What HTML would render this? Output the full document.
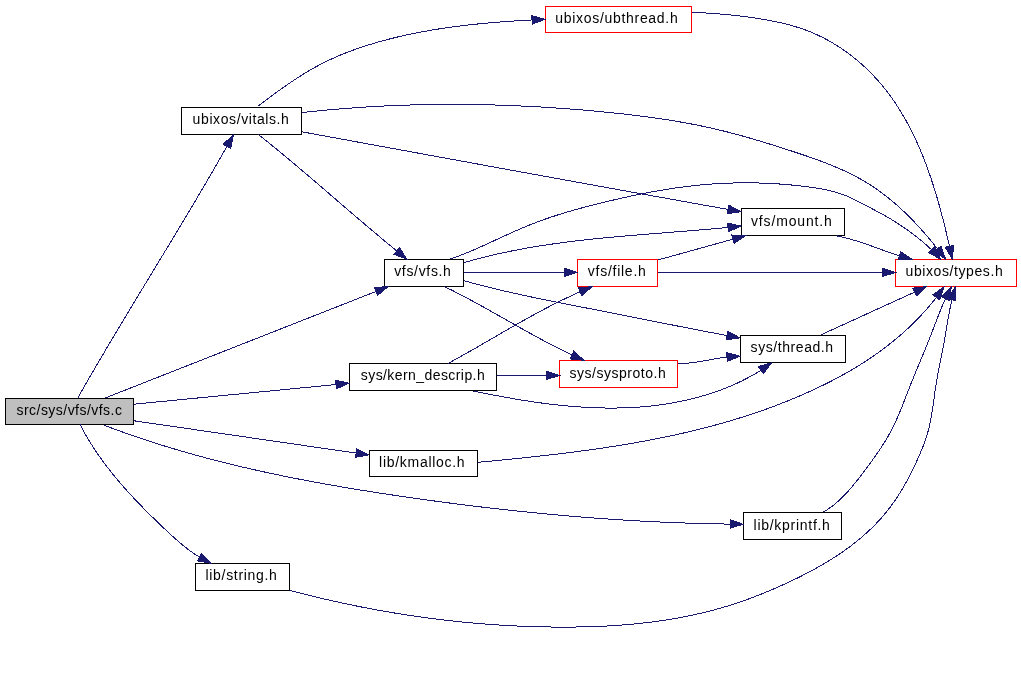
<!DOCTYPE html><html><head><meta charset="utf-8"><style>html,body{margin:0;padding:0;background:#fff;width:1021px;height:679px;overflow:hidden}svg{display:block;will-change:transform}text{font-family:"Liberation Sans",sans-serif;font-size:14px;fill:#000}</style></head><body>
<svg width="1021" height="679" viewBox="0 0 1021 679">
<rect width="1021" height="679" fill="#fff"/>
<rect x="5.5" y="398.5" width="128.0" height="26.0" fill="#bfbfbf" stroke="#000" stroke-width="1"/>
<text x="16.5" y="415.0" textLength="105.4" lengthAdjust="spacing">src/sys/vfs/vfs.c</text>
<rect x="181.5" y="107.5" width="120.0" height="27.0" fill="#fff" stroke="#000" stroke-width="1"/>
<text x="192.6" y="124.0" textLength="96.3" lengthAdjust="spacing">ubixos/vitals.h</text>
<rect x="545.5" y="6.5" width="146.0" height="26.0" fill="#fff" stroke="#ff0000" stroke-width="1"/>
<text x="555.3" y="23.0" textLength="122.4" lengthAdjust="spacing">ubixos/ubthread.h</text>
<rect x="384.5" y="259.5" width="79.0" height="27.0" fill="#fff" stroke="#000" stroke-width="1"/>
<text x="394.2" y="276.0" textLength="56.7" lengthAdjust="spacing">vfs/vfs.h</text>
<rect x="741.5" y="208.5" width="103.0" height="27.0" fill="#fff" stroke="#000" stroke-width="1"/>
<text x="751.0" y="226.0" textLength="80.8" lengthAdjust="spacing">vfs/mount.h</text>
<rect x="577.5" y="259.5" width="80.0" height="27.0" fill="#fff" stroke="#ff0000" stroke-width="1"/>
<text x="587.8" y="276.0" textLength="58.0" lengthAdjust="spacing">vfs/file.h</text>
<rect x="895.5" y="259.5" width="121.0" height="27.0" fill="#fff" stroke="#ff0000" stroke-width="1"/>
<text x="905.5" y="276.0" textLength="97.2" lengthAdjust="spacing">ubixos/types.h</text>
<rect x="349.5" y="363.5" width="147.0" height="27.0" fill="#fff" stroke="#000" stroke-width="1"/>
<text x="360.8" y="380.0" textLength="123.9" lengthAdjust="spacing">sys/kern_descrip.h</text>
<rect x="559.5" y="360.5" width="118.0" height="27.0" fill="#fff" stroke="#ff0000" stroke-width="1"/>
<text x="569.4" y="378.0" textLength="96.4" lengthAdjust="spacing">sys/sysproto.h</text>
<rect x="740.5" y="335.5" width="105.0" height="27.0" fill="#fff" stroke="#000" stroke-width="1"/>
<text x="750.6" y="352.0" textLength="82.5" lengthAdjust="spacing">sys/thread.h</text>
<rect x="369.5" y="450.5" width="108.0" height="26.0" fill="#fff" stroke="#000" stroke-width="1"/>
<text x="379.1" y="467.0" textLength="85.5" lengthAdjust="spacing">lib/kmalloc.h</text>
<rect x="743.5" y="512.5" width="98.0" height="27.0" fill="#fff" stroke="#000" stroke-width="1"/>
<text x="753.6" y="530.0" textLength="76.3" lengthAdjust="spacing">lib/kprintf.h</text>
<rect x="195.5" y="563.5" width="94.0" height="27.0" fill="#fff" stroke="#000" stroke-width="1"/>
<text x="205.5" y="580.0" textLength="71.4" lengthAdjust="spacing">lib/string.h</text>
<g fill="none" stroke="#191970" stroke-width="1" shape-rendering="crispEdges">
<path d="M78.03,397.53 L80.30,393.54 L82.58,389.54 L84.86,385.56 L87.15,381.57 L89.45,377.60 L91.76,373.62 L94.07,369.65 L96.38,365.68 L98.70,361.71 L101.03,357.75 L103.36,353.79 L105.70,349.83 L108.04,345.88 L110.38,341.93 L112.73,337.98 L115.09,334.03 L117.44,330.08 L119.80,326.14 L122.17,322.20 L124.53,318.26 L126.90,314.32 L129.28,310.38 L131.65,306.45 L134.02,302.51 L136.40,298.58 L138.78,294.65 L141.16,290.71 L143.54,286.78 L145.93,282.85 L148.31,278.92 L150.69,274.99 L153.08,271.06 L155.46,267.13 L157.84,263.20 L160.22,259.27 L162.61,255.34 L164.99,251.41 L167.37,247.47 L169.74,243.54 L172.12,239.61 L174.49,235.67 L176.86,231.74 L179.23,227.80 L181.60,223.86 L183.96,219.92 L186.32,215.97 L188.68,212.03 L191.03,208.08 L193.38,204.13 L195.73,200.18 L198.07,196.23 L200.41,192.27 L202.74,188.31 L205.07,184.35 L207.39,180.38 L209.70,176.42 L212.01,172.45 L214.32,168.47 L216.62,164.49 L218.91,160.51 L221.19,156.52 L223.47,152.54 L225.74,148.54 L227.01,146.30"/>
<path d="M105.03,398.03 L375.97,291.47"/>
<path d="M133.53,404.23 L336.09,384.54"/>
<path d="M133.63,420.73 L356.17,453.09"/>
<path d="M104.43,425.33 L109.00,427.07 L113.59,428.78 L118.18,430.46 L122.77,432.12 L127.38,433.76 L131.99,435.37 L136.61,436.96 L141.23,438.52 L145.87,440.06 L150.51,441.58 L155.15,443.07 L159.80,444.54 L164.46,445.99 L169.13,447.42 L173.80,448.82 L178.48,450.21 L183.16,451.57 L187.85,452.91 L192.55,454.24 L197.25,455.54 L201.95,456.82 L206.67,458.08 L211.38,459.32 L216.11,460.55 L220.83,461.75 L225.57,462.94 L230.30,464.11 L235.04,465.26 L239.79,466.39 L244.54,467.51 L249.30,468.61 L254.06,469.69 L258.82,470.76 L263.59,471.81 L268.36,472.84 L273.14,473.86 L277.92,474.86 L282.70,475.85 L287.49,476.83 L292.28,477.78 L297.07,478.73 L301.86,479.66 L306.66,480.58 L311.47,481.49 L316.27,482.38 L321.08,483.26 L325.89,484.13 L330.70,484.98 L335.52,485.83 L340.33,486.66 L345.15,487.48 L349.97,488.29 L354.80,489.09 L359.62,489.88 L364.45,490.66 L369.28,491.43 L374.11,492.19 L378.94,492.94 L383.77,493.69 L388.60,494.42 L393.44,495.15 L398.27,495.87 L403.11,496.58 L407.94,497.28 L412.78,497.98 L417.62,498.67 L422.46,499.35 L427.30,500.02 L432.14,500.69 L436.98,501.35 L441.82,501.99 L446.66,502.64 L451.51,503.27 L456.35,503.90 L461.20,504.51 L466.04,505.12 L470.89,505.72 L475.73,506.31 L480.58,506.90 L485.43,507.47 L490.28,508.04 L495.13,508.60 L499.98,509.15 L504.83,509.69 L509.68,510.22 L514.54,510.75 L519.39,511.26 L524.24,511.77 L529.10,512.26 L533.96,512.75 L538.81,513.23 L543.67,513.70 L548.53,514.16 L553.39,514.61 L558.25,515.05 L563.11,515.48 L567.97,515.90 L572.83,516.31 L577.70,516.71 L582.56,517.11 L587.42,517.49 L592.29,517.86 L597.16,518.23 L602.02,518.58 L606.89,518.92 L611.76,519.26 L616.63,519.58 L621.50,519.89 L626.37,520.20 L631.24,520.49 L636.12,520.77 L640.99,521.04 L645.86,521.31 L650.74,521.56 L655.62,521.80 L660.49,522.03 L665.37,522.24 L670.25,522.45 L675.13,522.65 L680.01,522.83 L684.89,523.01 L689.77,523.17 L694.65,523.33 L699.54,523.47 L704.42,523.60 L709.31,523.72 L714.19,523.83 L719.08,523.92 L723.97,524.01 L728.86,524.08 L730.03,524.10"/>
<path d="M79.93,424.23 L81.94,428.10 L84.01,431.92 L86.15,435.71 L88.36,439.46 L90.63,443.17 L92.96,446.84 L95.35,450.48 L97.79,454.08 L100.29,457.65 L102.84,461.19 L105.45,464.69 L108.09,468.16 L110.79,471.60 L113.53,475.01 L116.31,478.39 L119.13,481.74 L121.99,485.07 L124.89,488.37 L127.82,491.64 L130.78,494.88 L133.77,498.10 L136.79,501.30 L139.84,504.47 L142.90,507.62 L145.99,510.75 L149.10,513.86 L152.23,516.95 L155.37,520.02 L158.53,523.07 L161.70,526.11 L164.87,529.13 L168.06,532.12 L171.27,535.09 L174.50,538.03 L177.76,540.91 L181.07,543.73 L184.43,546.48 L187.85,549.16 L191.34,551.74 L194.90,554.22 L198.55,556.58 L199.52,557.18"/>
<path d="M258.23,106.03 L261.84,103.24 L265.49,100.47 L269.16,97.71 L272.86,94.98 L276.58,92.27 L280.33,89.58 L284.10,86.92 L287.90,84.29 L291.72,81.70 L295.57,79.14 L299.45,76.62 L303.36,74.16 L307.29,71.75 L311.27,69.42 L315.28,67.15 L319.33,64.96 L323.42,62.86 L327.55,60.83 L331.71,58.88 L335.91,57.00 L340.13,55.20 L344.39,53.46 L348.68,51.80 L352.99,50.19 L357.32,48.65 L361.67,47.16 L366.05,45.73 L370.44,44.36 L374.85,43.04 L379.27,41.76 L383.71,40.53 L388.16,39.35 L392.61,38.22 L397.08,37.12 L401.57,36.08 L406.06,35.07 L410.56,34.10 L415.07,33.18 L419.59,32.29 L424.12,31.45 L428.65,30.64 L433.20,29.86 L437.75,29.12 L442.30,28.42 L446.87,27.74 L451.44,27.10 L456.01,26.49 L460.59,25.91 L465.17,25.36 L469.76,24.84 L474.35,24.34 L478.94,23.87 L483.53,23.43 L488.13,23.01 L492.72,22.61 L497.32,22.23 L501.92,21.87 L506.52,21.54 L511.12,21.22 L515.71,20.92 L520.31,20.64 L524.90,20.37 L529.49,20.12 L532.05,19.98"/>
<path d="M301.53,112.63 L306.68,112.06 L311.83,111.52 L316.98,110.99 L322.13,110.49 L327.28,110.00 L332.43,109.54 L337.59,109.10 L342.75,108.68 L347.90,108.28 L353.06,107.90 L358.22,107.53 L363.38,107.19 L368.54,106.87 L373.70,106.57 L378.86,106.29 L384.03,106.03 L389.19,105.79 L394.35,105.57 L399.52,105.37 L404.68,105.18 L409.85,105.02 L415.02,104.87 L420.18,104.75 L425.35,104.64 L430.52,104.55 L435.69,104.49 L440.86,104.44 L446.02,104.40 L451.19,104.39 L456.36,104.40 L461.53,104.42 L466.70,104.46 L471.87,104.52 L477.04,104.60 L482.21,104.70 L487.38,104.81 L492.55,104.94 L497.72,105.09 L502.88,105.26 L508.05,105.45 L513.22,105.65 L518.39,105.87 L523.56,106.11 L528.72,106.36 L533.89,106.63 L539.06,106.92 L544.22,107.22 L549.39,107.55 L554.55,107.88 L559.72,108.24 L564.88,108.61 L570.04,109.00 L575.20,109.40 L580.37,109.82 L585.53,110.26 L590.69,110.71 L595.84,111.18 L601.00,111.67 L606.16,112.17 L611.31,112.68 L616.47,113.22 L621.62,113.78 L626.76,114.35 L631.91,114.95 L637.05,115.58 L642.19,116.22 L647.32,116.90 L652.45,117.60 L657.57,118.33 L662.68,119.09 L667.79,119.88 L672.90,120.70 L677.99,121.56 L683.08,122.45 L688.16,123.38 L693.24,124.34 L698.30,125.35 L703.35,126.39 L708.40,127.48 L713.43,128.60 L718.46,129.78 L723.47,130.99 L728.47,132.25 L733.47,133.55 L738.45,134.89 L743.43,136.26 L748.40,137.67 L753.36,139.10 L758.32,140.57 L763.27,142.07 L768.22,143.59 L773.17,145.13 L778.11,146.69 L783.05,148.28 L787.99,149.87 L792.93,151.49 L797.86,153.11 L802.79,154.76 L807.71,156.44 L812.62,158.16 L817.51,159.91 L822.37,161.72 L827.21,163.58 L832.02,165.51 L836.79,167.50 L841.52,169.57 L846.21,171.73 L850.85,173.97 L855.44,176.31 L859.96,178.76 L864.42,181.31 L868.81,183.99 L873.12,186.78 L877.37,189.68 L881.54,192.69 L885.64,195.80 L889.67,199.01 L893.64,202.31 L897.53,205.70 L901.37,209.18 L905.13,212.73 L908.83,216.36 L912.47,220.05 L916.05,223.82 L919.57,227.64 L923.02,231.51 L926.43,235.43 L929.78,239.39 L933.09,243.38 L936.35,247.39 L937.58,248.92"/>
<path d="M301.53,131.73 L305.94,132.54 L310.35,133.35 L314.76,134.16 L319.17,134.97 L323.58,135.78 L327.99,136.59 L332.40,137.40 L336.81,138.21 L341.22,139.02 L345.63,139.83 L350.04,140.64 L354.45,141.44 L358.86,142.25 L363.27,143.06 L367.68,143.87 L372.09,144.68 L376.50,145.49 L380.91,146.30 L385.32,147.11 L389.73,147.92 L394.14,148.73 L398.55,149.54 L402.96,150.35 L407.37,151.16 L411.78,151.97 L416.19,152.77 L420.60,153.58 L425.02,154.39 L429.43,155.20 L433.84,156.01 L438.25,156.82 L442.66,157.62 L447.07,158.43 L451.48,159.24 L455.89,160.05 L460.30,160.86 L464.71,161.66 L469.12,162.47 L473.53,163.28 L477.94,164.08 L482.35,164.89 L486.76,165.70 L491.17,166.50 L495.59,167.31 L500.00,168.12 L504.41,168.92 L508.82,169.73 L513.23,170.53 L517.64,171.34 L522.05,172.14 L526.46,172.95 L530.87,173.75 L535.28,174.56 L539.70,175.36 L544.11,176.17 L548.52,176.97 L552.93,177.77 L557.34,178.58 L561.75,179.38 L566.16,180.18 L570.57,180.99 L574.98,181.79 L579.40,182.59 L583.81,183.39 L588.22,184.19 L592.63,184.99 L597.04,185.80 L601.45,186.60 L605.86,187.40 L610.28,188.20 L614.69,189.00 L619.10,189.80 L623.51,190.59 L627.92,191.39 L632.33,192.19 L636.75,192.99 L641.16,193.79 L645.57,194.58 L649.98,195.38 L654.39,196.18 L658.80,196.97 L663.22,197.77 L667.63,198.57 L672.04,199.36 L676.45,200.16 L680.86,200.95 L685.27,201.74 L689.69,202.54 L694.10,203.33 L698.51,204.12 L702.92,204.92 L707.34,205.71 L711.75,206.50 L716.16,207.29 L720.57,208.08 L724.98,208.87 L728.24,209.45"/>
<path d="M258.33,134.43 L261.76,137.17 L265.18,139.92 L268.59,142.68 L272.00,145.45 L275.40,148.23 L278.78,151.01 L282.17,153.81 L285.54,156.62 L288.91,159.43 L292.28,162.25 L295.63,165.07 L298.99,167.90 L302.34,170.74 L305.68,173.58 L309.02,176.42 L312.36,179.27 L315.69,182.13 L319.03,184.98 L322.36,187.84 L325.68,190.70 L329.01,193.56 L332.34,196.42 L335.67,199.29 L338.99,202.15 L342.32,205.01 L345.65,207.87 L348.98,210.73 L352.31,213.59 L355.64,216.44 L358.98,219.30 L362.32,222.14 L365.66,224.99 L369.01,227.83 L372.36,230.66 L375.71,233.49 L379.07,236.31 L382.44,239.13 L385.81,241.94 L389.19,244.74 L392.57,247.53 L395.97,250.32 L396.84,251.03"/>
<path d="M450.33,259.03 L455.26,257.29 L460.17,255.45 L465.04,253.52 L469.89,251.52 L474.73,249.45 L479.55,247.33 L484.35,245.17 L489.15,242.98 L493.94,240.77 L498.74,238.55 L503.53,236.34 L508.33,234.15 L513.14,231.98 L517.96,229.85 L522.79,227.77 L527.65,225.76 L532.53,223.81 L537.43,221.94 L542.36,220.14 L547.30,218.40 L552.27,216.72 L557.25,215.10 L562.25,213.54 L567.27,212.03 L572.30,210.56 L577.35,209.14 L582.41,207.76 L587.48,206.42 L592.57,205.11 L597.66,203.83 L602.77,202.57 L607.88,201.34 L613.00,200.13 L618.13,198.95 L623.26,197.79 L628.41,196.65 L633.55,195.55 L638.71,194.48 L643.87,193.44 L649.04,192.44 L654.21,191.48 L659.39,190.55 L664.58,189.68 L669.77,188.84 L674.97,188.06 L680.17,187.33 L685.38,186.64 L690.60,186.02 L695.82,185.45 L701.04,184.93 L706.27,184.47 L711.50,184.07 L716.74,183.72 L721.98,183.43 L727.22,183.20 L732.47,183.02 L737.71,182.91 L742.96,182.84 L748.22,182.84 L753.47,182.89 L758.72,183.00 L763.98,183.17 L769.23,183.40 L774.49,183.68 L779.74,184.02 L785.00,184.42 L790.25,184.88 L795.50,185.40 L800.75,185.97 L806.00,186.61 L811.24,187.30 L816.47,188.09 L821.67,188.98 L826.83,190.02 L831.94,191.22 L836.98,192.61 L841.94,194.22 L846.82,196.08 L851.59,198.19 L856.30,200.49 L860.96,202.91 L865.61,205.37 L870.27,207.82 L874.93,210.27 L879.57,212.74 L884.18,215.26 L888.75,217.86 L893.25,220.56 L897.68,223.36 L902.04,226.27 L906.35,229.27 L910.60,232.36 L914.80,235.52 L918.94,238.76 L923.01,242.09 L926.99,245.53 L930.87,249.08 L931.55,249.73"/>
<path d="M463.73,262.73 L467.80,261.55 L471.88,260.40 L475.96,259.29 L480.05,258.21 L484.15,257.17 L488.25,256.16 L492.36,255.17 L496.47,254.22 L500.59,253.30 L504.71,252.41 L508.84,251.55 L512.97,250.71 L517.11,249.90 L521.25,249.12 L525.39,248.36 L529.55,247.63 L533.70,246.92 L537.86,246.24 L542.02,245.57 L546.19,244.93 L550.36,244.31 L554.53,243.71 L558.71,243.13 L562.89,242.57 L567.07,242.03 L571.26,241.50 L575.45,240.99 L579.64,240.50 L583.83,240.02 L588.03,239.56 L592.23,239.11 L596.43,238.67 L600.63,238.25 L604.83,237.84 L609.04,237.43 L613.24,237.04 L617.45,236.66 L621.66,236.28 L625.87,235.92 L630.08,235.56 L634.30,235.20 L638.51,234.85 L642.72,234.51 L646.94,234.17 L651.15,233.84 L655.36,233.50 L659.58,233.17 L663.79,232.84 L668.01,232.51 L672.22,232.18 L676.43,231.85 L680.64,231.52 L684.85,231.18 L689.06,230.84 L693.27,230.50 L697.48,230.15 L701.68,229.80 L705.89,229.44 L710.09,229.07 L714.29,228.70 L718.48,228.32 L722.68,227.93 L726.87,227.52 L728.10,227.40"/>
<path d="M463.73,272.43 L564.03,272.43"/>
<path d="M463.73,280.63 L467.83,281.77 L471.93,282.89 L476.04,283.98 L480.16,285.06 L484.28,286.12 L488.40,287.15 L492.53,288.17 L496.66,289.17 L500.79,290.16 L504.93,291.12 L509.07,292.08 L513.22,293.02 L517.36,293.94 L521.51,294.86 L525.67,295.76 L529.82,296.65 L533.98,297.52 L538.14,298.39 L542.31,299.25 L546.47,300.10 L550.64,300.95 L554.80,301.79 L558.97,302.62 L563.14,303.45 L567.32,304.27 L571.49,305.09 L575.66,305.90 L579.84,306.72 L584.01,307.53 L588.18,308.34 L592.36,309.16 L596.53,309.97 L600.71,310.79 L604.88,311.60 L609.05,312.43 L613.22,313.25 L617.40,314.07 L621.57,314.90 L625.74,315.72 L629.91,316.55 L634.08,317.38 L638.25,318.21 L642.42,319.04 L646.59,319.87 L650.76,320.70 L654.94,321.53 L659.11,322.36 L663.28,323.18 L667.45,324.01 L671.62,324.84 L675.79,325.66 L679.97,326.48 L684.14,327.30 L688.31,328.12 L692.49,328.93 L696.66,329.74 L700.83,330.55 L705.01,331.36 L709.19,332.16 L713.36,332.95 L717.54,333.75 L721.72,334.54 L725.90,335.32 L727.25,335.58"/>
<path d="M444.13,286.43 L448.06,288.35 L451.98,290.29 L455.88,292.27 L459.77,294.27 L463.64,296.30 L467.51,298.34 L471.36,300.41 L475.20,302.50 L479.04,304.60 L482.87,306.72 L486.69,308.85 L490.51,310.98 L494.32,313.13 L498.13,315.28 L501.94,317.44 L505.75,319.60 L509.55,321.76 L513.36,323.92 L517.17,326.07 L520.99,328.21 L524.80,330.35 L528.62,332.48 L532.45,334.59 L536.29,336.70 L540.13,338.78 L543.98,340.85 L547.85,342.89 L551.72,344.92 L555.61,346.92 L559.50,348.89 L563.42,350.83 L567.35,352.75 L571.29,354.63 L572.03,354.97"/>
<path d="M691.83,12.33 L696.80,12.52 L701.77,12.76 L706.75,13.04 L711.74,13.36 L715.73,13.65 L719.73,13.96 L723.73,14.31 L727.72,14.68 L731.72,15.08 L735.73,15.52 L739.73,15.98 L743.73,16.48 L747.73,17.00 L751.73,17.56 L755.73,18.15 L759.73,18.77 L763.73,19.43 L767.71,20.13 L771.69,20.88 L775.66,21.68 L779.61,22.53 L783.54,23.44 L787.45,24.42 L791.34,25.46 L795.21,26.58 L799.04,27.78 L802.84,29.06 L806.61,30.43 L810.34,31.89 L814.03,33.45 L817.68,35.09 L821.29,36.81 L824.86,38.63 L828.38,40.52 L831.86,42.50 L835.30,44.56 L838.69,46.70 L842.03,48.91 L845.32,51.19 L848.57,53.55 L851.76,55.98 L854.91,58.48 L858.00,61.04 L861.03,63.67 L864.02,66.36 L866.94,69.12 L869.81,71.93 L872.62,74.80 L875.38,77.73 L878.07,80.71 L880.70,83.74 L883.27,86.82 L885.78,89.95 L888.23,93.13 L890.61,96.35 L892.94,99.62 L895.21,102.93 L897.42,106.28 L899.57,109.66 L901.67,113.09 L903.72,116.55 L905.71,120.04 L907.65,123.57 L909.55,127.12 L911.39,130.71 L913.18,134.32 L914.92,137.96 L916.62,141.62 L918.28,145.31 L919.89,149.01 L921.45,152.74 L922.97,156.48 L924.46,160.24 L925.90,164.01 L927.30,167.80 L928.67,171.60 L930.00,175.40 L931.29,179.22 L932.55,183.04 L933.78,186.86 L934.97,190.69 L936.13,194.52 L937.55,199.32 L938.91,204.12 L940.24,208.93 L941.53,213.74 L942.79,218.57 L944.02,223.40 L945.22,228.25 L946.39,233.10 L947.54,237.97 L948.45,241.87 L949.35,245.78 L949.48,246.36"/>
<path d="M836.63,235.83 L840.56,236.64 L844.64,237.60 L848.70,238.65 L852.73,239.80 L856.73,241.01 L860.72,242.29 L864.68,243.62 L868.64,245.00 L872.58,246.40 L876.52,247.82 L880.46,249.24 L884.40,250.66 L888.34,252.06 L892.30,253.44 L896.26,254.77 L899.55,255.83"/>
<path d="M657.73,260.03 L733.02,239.14"/>
<path d="M657.53,272.53 L882.03,272.53"/>
<path d="M448.23,363.33 L451.83,361.37 L455.43,359.40 L459.02,357.41 L462.60,355.41 L466.17,353.40 L469.74,351.38 L473.31,349.35 L476.87,347.31 L480.42,345.26 L483.98,343.21 L487.53,341.16 L491.08,339.10 L494.63,337.05 L498.18,334.99 L501.73,332.94 L505.28,330.89 L508.84,328.84 L512.40,326.80 L515.96,324.77 L519.53,322.75 L523.10,320.74 L526.68,318.74 L530.26,316.75 L533.86,314.78 L537.46,312.82 L541.07,310.89 L544.69,308.97 L548.32,307.07 L551.97,305.19 L555.62,303.34 L559.29,301.51 L562.97,299.70 L566.67,297.93 L570.38,296.18 L574.11,294.46 L577.85,292.78 L580.18,291.75"/>
<path d="M496.73,375.53 L546.03,375.53"/>
<path d="M473.53,391.03 L478.05,391.96 L482.58,392.88 L487.12,393.79 L491.67,394.68 L496.22,395.56 L500.79,396.42 L505.36,397.25 L509.94,398.07 L514.52,398.87 L519.12,399.64 L523.71,400.39 L528.32,401.11 L532.93,401.80 L537.54,402.46 L542.16,403.10 L546.78,403.70 L551.41,404.27 L556.04,404.81 L560.67,405.31 L565.30,405.77 L569.94,406.19 L574.58,406.58 L579.22,406.92 L583.86,407.22 L588.50,407.48 L593.14,407.69 L597.79,407.86 L602.43,407.98 L607.07,408.04 L611.71,408.06 L616.34,408.03 L620.98,407.94 L625.61,407.80 L630.24,407.60 L634.87,407.35 L639.49,407.03 L644.11,406.66 L648.72,406.22 L653.33,405.72 L657.94,405.16 L662.53,404.53 L667.13,403.84 L671.71,403.07 L676.29,402.24 L680.86,401.34 L685.42,400.36 L689.96,399.31 L694.48,398.19 L698.98,396.99 L703.46,395.72 L707.92,394.37 L712.35,392.94 L716.74,391.44 L721.11,389.85 L725.44,388.18 L729.73,386.43 L733.98,384.59 L738.19,382.67 L742.35,380.66 L746.47,378.57 L750.54,376.38 L754.56,374.10 L758.54,371.71 L760.93,370.21"/>
<path d="M677.93,363.53 L682.07,363.48 L686.18,363.25 L690.27,362.88 L694.35,362.38 L698.41,361.79 L702.46,361.12 L706.51,360.42 L710.56,359.69 L714.60,358.97 L718.65,358.28 L722.71,357.65 L726.78,357.10 L727.06,357.07"/>
<path d="M821.23,334.73 L914.55,292.14"/>
<path d="M477.83,462.33 L482.91,461.85 L487.99,461.37 L493.08,460.88 L498.18,460.39 L503.28,459.88 L508.38,459.38 L513.49,458.86 L518.60,458.34 L523.71,457.81 L528.83,457.26 L533.95,456.71 L539.07,456.15 L544.19,455.58 L549.31,454.99 L554.44,454.39 L559.56,453.78 L564.68,453.15 L569.81,452.51 L574.93,451.85 L580.06,451.18 L585.18,450.49 L590.30,449.78 L595.42,449.06 L600.53,448.32 L605.65,447.56 L610.76,446.77 L615.87,445.97 L620.97,445.15 L626.07,444.31 L631.17,443.44 L636.26,442.55 L641.34,441.63 L646.42,440.70 L651.50,439.73 L656.57,438.74 L661.63,437.73 L666.68,436.69 L671.73,435.62 L676.77,434.52 L681.80,433.40 L686.83,432.24 L691.84,431.06 L696.85,429.84 L701.85,428.59 L706.84,427.31 L711.81,426.00 L716.78,424.66 L721.74,423.28 L726.68,421.87 L731.62,420.42 L736.54,418.93 L741.45,417.41 L746.35,415.85 L751.24,414.26 L756.11,412.62 L760.97,410.95 L765.81,409.24 L770.64,407.49 L775.46,405.69 L780.26,403.86 L785.04,401.98 L789.82,400.06 L794.57,398.10 L799.31,396.09 L804.03,394.04 L808.73,391.94 L813.42,389.79 L818.09,387.60 L822.73,385.36 L827.35,383.07 L831.95,380.73 L836.51,378.33 L841.05,375.88 L845.55,373.38 L850.02,370.82 L854.46,368.20 L858.86,365.52 L863.21,362.79 L867.53,359.99 L871.80,357.13 L876.03,354.20 L880.21,351.21 L884.33,348.15 L888.41,345.03 L892.43,341.84 L896.40,338.58 L900.31,335.25 L904.17,331.85 L907.96,328.38 L911.68,324.84 L915.35,321.23 L918.94,317.55 L922.47,313.80 L925.92,309.97 L929.31,306.07 L932.62,302.10 L935.85,298.05 L936.34,297.42"/>
<path d="M823.43,511.93 L827.42,509.54 L831.22,506.93 L834.85,504.13 L838.32,501.14 L841.66,498.01 L844.88,494.73 L848.00,491.35 L851.04,487.87 L854.02,484.33 L856.95,480.73 L859.83,477.09 L862.67,473.41 L865.47,469.69 L868.23,465.95 L870.96,462.19 L873.66,458.42 L876.32,454.63 L878.94,450.81 L881.49,446.97 L883.98,443.10 L886.38,439.18 L888.69,435.22 L890.90,431.20 L892.99,427.12 L894.99,422.99 L896.89,418.81 L898.73,414.59 L900.50,410.34 L902.23,406.06 L903.92,401.76 L905.60,397.45 L907.26,393.13 L908.94,388.82 L910.64,384.51 L912.36,380.22 L914.11,375.94 L915.87,371.66 L917.65,367.39 L919.43,363.12 L921.21,358.86 L922.99,354.59 L924.76,350.32 L926.51,346.04 L928.25,341.76 L929.95,337.47 L931.63,333.16 L933.29,328.85 L934.93,324.54 L936.58,320.22 L938.25,315.92 L939.95,311.63 L941.69,307.37 L943.49,303.12 L945.36,298.91 L945.50,298.61"/>
<path d="M289.83,590.33 L294.04,591.45 L298.26,592.55 L302.48,593.64 L306.70,594.71 L310.93,595.76 L315.16,596.80 L319.39,597.82 L323.63,598.82 L327.87,599.81 L332.11,600.78 L336.36,601.73 L340.61,602.67 L344.87,603.59 L349.13,604.49 L353.39,605.37 L357.65,606.24 L361.92,607.09 L366.19,607.93 L370.46,608.74 L374.74,609.54 L379.02,610.32 L383.30,611.09 L387.59,611.84 L391.88,612.57 L396.17,613.28 L400.46,613.98 L404.76,614.65 L409.06,615.31 L413.36,615.96 L417.66,616.58 L421.97,617.19 L426.28,617.78 L430.59,618.35 L434.91,618.91 L439.23,619.45 L443.54,619.96 L447.87,620.47 L452.19,620.95 L456.52,621.41 L460.84,621.86 L465.17,622.29 L469.51,622.70 L473.84,623.10 L478.18,623.47 L482.51,623.83 L486.85,624.17 L491.20,624.49 L495.54,624.79 L499.88,625.07 L504.23,625.34 L508.58,625.58 L512.93,625.81 L517.28,626.02 L521.63,626.21 L525.99,626.39 L530.35,626.54 L534.70,626.68 L539.06,626.79 L543.42,626.89 L547.78,626.97 L552.15,627.03 L556.51,627.07 L560.87,627.10 L565.24,627.10 L569.60,627.08 L573.97,627.04 L578.34,626.98 L582.70,626.89 L587.06,626.79 L591.43,626.66 L595.79,626.50 L600.15,626.32 L604.50,626.11 L608.86,625.88 L613.21,625.62 L617.56,625.33 L621.91,625.01 L626.25,624.66 L630.59,624.28 L634.92,623.88 L639.25,623.44 L643.57,622.96 L647.89,622.46 L652.21,621.92 L656.51,621.35 L660.81,620.74 L665.11,620.10 L669.40,619.42 L673.68,618.70 L677.95,617.95 L682.22,617.15 L686.47,616.32 L690.72,615.45 L694.96,614.54 L699.19,613.59 L703.42,612.60 L707.63,611.56 L711.83,610.48 L716.02,609.36 L720.21,608.19 L724.38,606.98 L728.54,605.72 L732.69,604.41 L736.82,603.06 L740.95,601.67 L745.06,600.22 L749.16,598.74 L753.25,597.22 L757.33,595.65 L761.39,594.04 L765.45,592.40 L769.49,590.72 L773.52,589.00 L777.54,587.25 L781.54,585.46 L785.54,583.64 L789.52,581.79 L793.48,579.90 L797.43,577.99 L801.37,576.03 L805.28,574.04 L809.17,572.01 L813.03,569.94 L816.87,567.83 L820.68,565.68 L824.45,563.48 L828.20,561.23 L831.90,558.93 L835.57,556.59 L839.19,554.20 L842.78,551.75 L846.31,549.24 L849.80,546.69 L853.24,544.07 L856.63,541.39 L859.97,538.66 L863.24,535.86 L866.46,533.00 L869.62,530.07 L872.71,527.08 L875.74,524.01 L878.70,520.88 L881.59,517.68 L884.41,514.40 L887.15,511.04 L889.82,507.62 L892.41,504.11 L894.92,500.53 L897.36,496.89 L899.72,493.19 L902.02,489.43 L904.24,485.63 L906.40,481.78 L908.50,477.89 L910.53,473.98 L912.51,470.04 L914.42,466.08 L916.28,462.10 L918.09,458.12 L919.84,454.13 L921.53,450.13 L923.14,446.12 L924.65,442.08 L926.06,438.02 L927.35,433.92 L928.51,429.78 L929.53,425.59 L930.43,421.37 L931.23,417.11 L931.96,412.83 L932.62,408.53 L933.25,404.20 L933.84,399.87 L934.44,395.54 L935.05,391.20 L935.69,386.88 L936.38,382.56 L937.12,378.26 L937.90,373.96 L938.72,369.68 L939.55,365.40 L940.40,361.13 L941.25,356.86 L942.10,352.59 L942.94,348.31 L943.76,344.04 L944.55,339.76 L945.31,335.47 L946.04,331.18 L946.76,326.89 L947.47,322.60 L948.20,318.31 L948.96,314.02 L949.76,309.75 L950.61,305.49 L951.54,301.24 L951.93,299.54"/>
</g><g fill="#191970" stroke="#191970" stroke-width="1" shape-rendering="crispEdges">
<polygon points="233.4,134.9 230.7,148.4 223.2,144.2"/>
<polygon points="388.0,286.7 377.5,295.4 374.4,287.4"/>
<polygon points="349.0,383.2 336.5,388.8 335.6,380.2"/>
<polygon points="369.0,454.9 355.5,457.3 356.8,448.8"/>
<polygon points="743.0,524.2 730.0,528.4 730.0,519.8"/>
<polygon points="211.0,563.3 197.5,560.9 201.5,553.4"/>
<polygon points="545.0,19.3 532.2,24.2 531.8,15.7"/>
<polygon points="945.6,259.1 934.2,251.6 940.9,246.2"/>
<polygon points="741.0,211.7 727.4,213.7 729.0,205.2"/>
<polygon points="406.9,259.2 394.1,254.3 399.5,247.7"/>
<polygon points="940.5,259.1 928.4,252.7 934.6,246.7"/>
<polygon points="741.0,226.0 728.5,231.7 727.6,223.1"/>
<polygon points="577.0,272.4 564.0,276.7 564.0,268.1"/>
<polygon points="740.0,337.9 726.4,339.8 728.0,331.3"/>
<polygon points="583.8,360.3 570.2,358.9 573.8,351.0"/>
<polygon points="952.3,259.0 945.3,247.3 953.6,245.4"/>
<polygon points="912.0,259.4 898.3,259.9 900.7,251.7"/>
<polygon points="745.5,235.6 734.1,243.3 731.8,235.0"/>
<polygon points="895.0,272.5 882.0,276.8 882.0,268.2"/>
<polygon points="592.1,286.7 581.8,295.7 578.5,287.8"/>
<polygon points="559.0,375.5 546.0,379.8 546.0,371.2"/>
<polygon points="771.6,362.8 763.3,373.7 758.4,366.6"/>
<polygon points="740.0,356.2 727.3,361.3 726.8,352.7"/>
<polygon points="926.3,286.7 916.3,296.0 912.7,288.2"/>
<polygon points="944.0,286.9 939.8,299.9 932.8,294.8"/>
<polygon points="951.3,286.9 949.3,300.5 941.6,296.7"/>
<polygon points="955.4,287.0 956.0,300.7 947.8,298.4"/>
</g>
</svg></body></html>
